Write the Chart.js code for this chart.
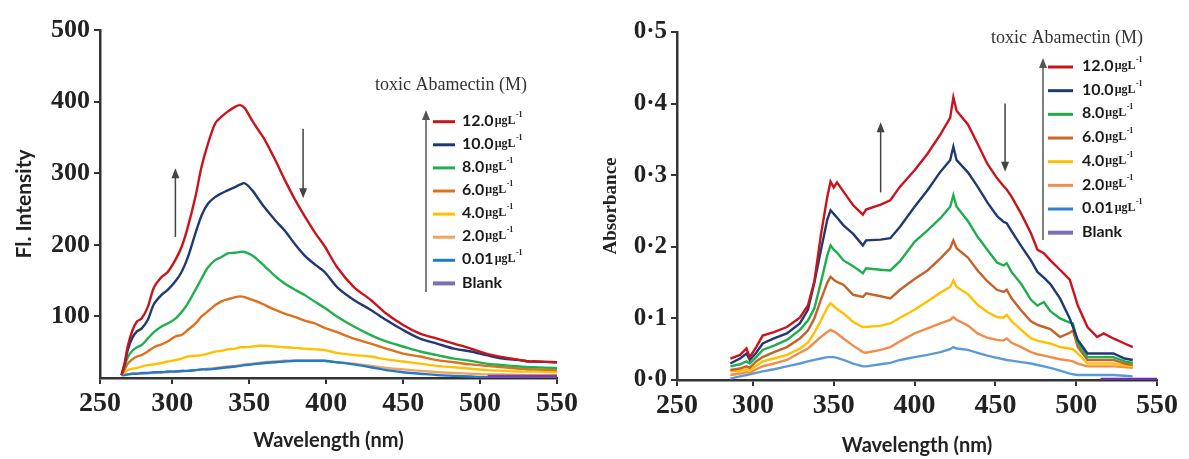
<!DOCTYPE html>
<html>
<head>
<meta charset="utf-8">
<script src="https://cdn.jsdelivr.net/npm/chart.js@4.4.1/dist/chart.umd.min.js"></script>
<style>
  html, body { margin: 0; padding: 0; background: #fff; }
  #wrap { position: relative; width: 1189px; height: 459px; overflow: hidden; background: #fff; }
  canvas { position: absolute; top: 0; }
</style>
</head>
<body>
<div id="wrap">
  <canvas id="fluo" width="594" height="459" style="left:0"></canvas>
  <canvas id="abs" width="595" height="459" style="left:594px"></canvas>
</div>
<script>
// legend / categories
const concLabels = ['12.0', '10.0', '8.0', '6.0', '4.0', '2.0', '0.01', 'Blank'];
const unitText = 'μgL';
const unitSup = '-1';
const legendTitle = 'toxic Abamectin (M)';

// tick labels
const xTickValues = [250, 300, 350, 400, 450, 500, 550];
const xTickLabels = ['250', '300', '350', '400', '450', '500', '550'];
const yTickValuesFluo = [100, 200, 300, 400, 500];
const yTickLabelsFluo = ['100', '200', '300', '400', '500'];
const yTickValuesAbs = [0, 0.1, 0.2, 0.3, 0.4, 0.5];
const yTickLabelsAbs = ['0·0', '0·1', '0·2', '0·3', '0·4', '0·5'];

// left panel : fluorescence spectra
const wlFluo = [267, 269, 271, 274, 277, 280, 284, 288, 293, 297,
  302, 306, 310, 315, 319, 323, 328, 332, 336, 341,
  344, 347, 352, 356, 360, 367, 373, 380, 386, 393,
  399, 407, 418, 429, 439, 450, 461, 472, 483, 494,
  504, 515, 526, 532, 535, 550];
const fluo12 = [18, 35, 58, 80, 93, 97, 113, 140, 155, 162,
  179, 197, 224, 267, 309, 340, 370, 379, 386, 393,
  395, 391, 373, 360, 347, 318, 291, 262, 240, 216,
  198, 169, 141, 123, 104, 88, 76, 69, 62, 55,
  48, 43, 39, 37, 37, 36];
const fluo10 = [18, 33, 53, 70, 79, 83, 95, 117, 130, 137,
  149, 162, 182, 216, 241, 257, 267, 272, 276, 281,
  284, 286, 276, 264, 252, 234, 220, 200, 185, 172,
  162, 141, 123, 109, 95, 81, 69, 62, 55, 51,
  46, 41, 39, 37, 37, 36];
const fluo8 = [18, 30, 43, 52, 57, 60, 69, 78, 86, 90,
  97, 106, 118, 137, 153, 168, 179, 183, 188, 189,
  190, 190, 185, 178, 170, 156, 146, 137, 130, 120,
  112, 100, 86, 74, 65, 58, 51, 46, 41, 38,
  34, 32, 30, 29, 29, 28];
const fluo6 = [18, 26, 34, 40, 44, 46, 51, 57, 61, 65,
  72, 74, 81, 90, 100, 107, 116, 121, 124, 127,
  128, 127, 123, 120, 116, 109, 104, 99, 94, 90,
  84, 78, 69, 62, 55, 48, 44, 39, 36, 33,
  31, 29, 27, 26, 26, 25];
const fluo4 = [18, 22, 25, 27, 28, 30, 32, 33, 35, 37,
  39, 41, 44, 45, 46, 48, 51, 52, 54, 55,
  57, 57, 58, 59, 59, 58, 57, 56, 55, 54,
  53, 49, 46, 44, 40, 37, 34, 31, 29, 27,
  25, 24, 23, 23, 23, 22];
const fluo2 = [18, 19, 19, 20, 20, 20, 21, 21, 22, 22,
  23, 23, 24, 25, 26, 27, 28, 29, 30, 31,
  32, 33, 34, 35, 36, 37, 38, 38, 38, 38,
  38, 36, 34, 31, 28, 26, 24, 22, 21, 20,
  19, 19, 18, 18, 18, 18];
const fluo001 = [18, 18, 19, 20, 20, 21, 21, 22, 22, 23,
  23, 24, 24, 25, 26, 26, 27, 28, 29, 30,
  31, 32, 33, 34, 35, 36, 37, 38, 38, 38,
  38, 36, 33, 29, 25, 22, 20, 18, 17, 16,
  15, 15, 15, 15, 15, 15];
const wlBlankFluo = [505, 530, 550];
const fluoBlank = [16.5, 16.5, 16.5];

// right panel : absorbance spectra
const wlAbs = [286, 292, 296, 298, 302, 306, 313, 321, 329, 334,
  338, 342, 346, 348, 350, 352, 356, 362, 368, 370,
  379, 385, 391, 400, 408, 416, 422, 424, 426, 433,
  439, 445, 451, 455, 457, 460, 466, 472, 476, 480,
  484, 490, 496, 498, 501, 507, 513, 517, 523, 530,
  535];
const abs12 = [.044, .049, .058, .046, .060, .076, .081, .088, .101, .118,
  .152, .216, .270, .291, .283, .290, .277, .258, .245, .252,
  .259, .265, .284, .307, .330, .357, .380, .409, .390, .371,
  .344, .316, .296, .285, .280, .270, .246, .219, .196, .191,
  .181, .168, .154, .140, .118, .088, .074, .079, .072, .065,
  .060];
const abs10 = [.037, .044, .051, .042, .052, .065, .072, .079, .093, .112,
  .150, .195, .238, .251, .246, .241, .230, .218, .202, .209,
  .210, .212, .228, .256, .279, .305, .321, .340, .321, .304,
  .284, .262, .243, .235, .233, .222, .201, .181, .165, .157,
  .148, .128, .100, .088, .070, .051, .051, .051, .051, .044,
  .042];
const abs8 = [.033, .036, .040, .037, .046, .056, .062, .070, .084, .097,
  .114, .150, .188, .202, .196, .192, .181, .173, .163, .170,
  .168, .167, .180, .207, .223, .240, .256, .272, .256, .236,
  .214, .196, .178, .174, .177, .165, .148, .126, .118, .123,
  .110, .100, .094, .093, .066, .046, .046, .046, .046, .040,
  .038];
const abs6 = [.028, .030, .033, .031, .040, .046, .053, .060, .072, .083,
  .100, .126, .150, .158, .154, .151, .147, .133, .130, .135,
  .131, .128, .140, .155, .167, .184, .198, .209, .198, .185,
  .167, .152, .140, .137, .140, .128, .111, .096, .091, .088,
  .085, .074, .080, .083, .060, .042, .042, .042, .042, .037,
  .035];
const abs4 = [.026, .027, .029, .028, .034, .040, .044, .049, .058, .066,
  .080, .097, .115, .121, .117, .113, .107, .095, .088, .088,
  .090, .093, .101, .112, .124, .136, .144, .153, .144, .134,
  .119, .109, .102, .101, .105, .096, .084, .072, .069, .067,
  .065, .060, .058, .057, .051, .037, .037, .037, .037, .034,
  .033];
const abs2 = [.021, .023, .025, .024, .029, .033, .037, .042, .052, .058,
  .066, .074, .081, .084, .082, .079, .072, .062, .053, .052,
  .056, .060, .068, .079, .086, .093, .098, .102, .098, .090,
  .079, .073, .070, .069, .072, .066, .060, .053, .050, .048,
  .046, .043, .041, .040, .037, .033, .033, .033, .033, .032,
  .031];
const abs001 = [.016, .019, .021, .022, .024, .026, .029, .033, .037, .040,
  .042, .044, .046, .046, .046, .045, .042, .037, .033, .033,
  .036, .038, .042, .046, .049, .053, .057, .060, .058, .056,
  .052, .048, .045, .043, .042, .041, .039, .037, .035, .033,
  .031, .027, .023, .022, .021, .021, .021, .021, .021, .020,
  .019];
const wlBlankAbs = [515, 535, 550];
const absBlank = [.015, .015, .015];

// arrows inside the plots (wavelength, from value, to value)
const arrowsFluo = [{ wl: 302, from: 211, to: 307 }, { wl: 385, from: 362, to: 265 }];
const arrowsAbs = [{ wl: 379, from: 0.276, to: 0.374 }, { wl: 456, from: 0.400, to: 0.305 }];

const colorsFluo = ['#c8141c', '#1f3a73', '#22b04e', '#e0701e', '#ffc000', '#f5a25a', '#1f7bd0', '#7a3fb0'];
const colorsAbs = ['#c8141c', '#1f3a73', '#1fae4e', '#c4622a', '#ffc000', '#f28c4a', '#5b9bd5', '#6a2fb5'];
const legendColorsFluo = ['#c8141c', '#1f3a73', '#22b04e', '#e0701e', '#ffc000', '#f5a25a', '#1f7bd0', '#7b70b5'];
const legendColorsAbs = ['#c8141c', '#1f3a73', '#1fae4e', '#d0652a', '#ffc000', '#f28c4a', '#2f80d0', '#7b70b5'];

function pts(wl, vals) {
  return wl.map((w, i) => ({ x: w, y: vals[i] }));
}

function drawArrow(ctx, x, y1, y2, color) {
  const dir = y2 < y1 ? -1 : 1;
  ctx.strokeStyle = color;
  ctx.fillStyle = color;
  ctx.lineWidth = 1.5;
  ctx.beginPath();
  ctx.moveTo(x, y1);
  ctx.lineTo(x, y2 - dir * 8);
  ctx.stroke();
  ctx.beginPath();
  ctx.moveTo(x, y2);
  ctx.lineTo(x - 4, y2 - dir * 10);
  ctx.lineTo(x + 4, y2 - dir * 10);
  ctx.closePath();
  ctx.fill();
}

// draws the concentration legend and the arrows
function legendPlugin(cfg) {
  return {
    id: 'concLegend',
    afterDraw(chart) {
      const ctx = chart.ctx;
      ctx.save();
      ctx.textAlign = 'left';
      ctx.textBaseline = 'middle';
      ctx.font = '18px "Liberation Serif", serif';
      ctx.fillStyle = '#333';
      ctx.fillText(legendTitle, cfg.titleX, cfg.titleY);

      drawArrow(ctx, cfg.arrowX, cfg.arrowBottom, cfg.arrowTop, '#555');

      concLabels.forEach((lab, i) => {
        const y = cfg.top + i * cfg.step;
        ctx.strokeStyle = cfg.colors[i];
        ctx.lineWidth = i === 7 ? 4 : 3;
        ctx.beginPath();
        ctx.moveTo(cfg.lineX0, y);
        ctx.lineTo(cfg.lineX1, y);
        ctx.stroke();

        ctx.fillStyle = '#1a1a1a';
        ctx.font = 'bold 16px Lato, sans-serif';
        ctx.fillText(lab, cfg.textX, y - 1);
        if (lab !== 'Blank') {
          let x = cfg.textX + ctx.measureText(lab).width + 1;
          ctx.font = 'bold 12px "Liberation Serif", serif';
          ctx.fillText(unitText, x, y - 1);
          x += ctx.measureText(unitText).width + 0.5;
          ctx.font = 'bold 8px "Liberation Serif", serif';
          ctx.fillText(unitSup, x, y - 7);
        }
      });

      const xs = chart.scales.x, ys = chart.scales.y;
      cfg.arrows.forEach(a => {
        drawArrow(ctx, xs.getPixelForValue(a.wl), ys.getPixelForValue(a.from), ys.getPixelForValue(a.to), '#444');
      });
      ctx.restore();
    }
  };
}

function makeChart(id, o) {
  const datasets = o.series.map((s, i) => ({
    label: concLabels[i],
    data: pts(s.wl, s.vals),
    borderColor: o.colors[i],
    borderWidth: i === 7 ? 3 : 2.4,
    pointRadius: 0,
    tension: o.tension,
    fill: false,
    order: o.order[i]
  }));
  return new Chart(document.getElementById(id), {
    type: 'line',
    data: { datasets },
    options: {
      responsive: false,
      animation: false,
      devicePixelRatio: 1,
      layout: { padding: { left: 0, top: o.padTop, right: o.padRight, bottom: 0 } },
      plugins: { legend: { display: false }, tooltip: { enabled: false } },
      scales: {
        x: {
          type: 'linear',
          min: 253,
          max: 550,
          afterBuildTicks: s => { s.ticks = xTickValues.map(v => ({ value: Math.max(v, s.min) })); },
          afterFit: s => { s.height = o.xHeight; s.paddingLeft = 0; s.paddingRight = 0; },
          ticks: {
            autoSkip: false, maxRotation: 0, padding: 3, color: '#222',
            font: { family: '"Liberation Serif", serif', weight: 'bold', size: 28 },
            callback: (v, i) => xTickLabels[i]
          },
          grid: { drawOnChartArea: false, drawTicks: true, tickLength: 6, color: '#333', lineWidth: 2 },
          border: { display: true, color: '#333', width: 2.5 },
          title: {
            display: true, text: 'Wavelength (nm)', color: '#222',
            font: { family: 'Lato, sans-serif', weight: 'bold', size: 20 },
            padding: { top: 0, bottom: o.xTitlePad }
          }
        },
        y: {
          type: 'linear',
          min: o.yMin,
          max: o.yMax,
          afterBuildTicks: s => { s.ticks = o.yTicks.map(v => ({ value: Math.max(v, s.min) })); },
          afterFit: s => { s.width = o.yWidth; s.paddingTop = 0; s.paddingBottom = 0; },
          ticks: {
            autoSkip: false, padding: 4, color: '#222',
            font: { family: '"Liberation Serif", serif', weight: 'bold', size: o.yTickSize },
            callback: (v, i) => o.yLabels[i]
          },
          grid: { drawOnChartArea: false, drawTicks: true, tickLength: 6, color: '#333', lineWidth: 2 },
          border: { display: true, color: '#333', width: 2.5 },
          title: {
            display: true, text: o.yTitle, color: '#222',
            font: o.yTitleFont,
            padding: { top: o.yTitlePad, bottom: 0 }
          }
        }
      }
    },
    plugins: [legendPlugin(o.legend)]
  });
}

makeChart('fluo', {
  series: [
    { wl: wlFluo, vals: fluo12 }, { wl: wlFluo, vals: fluo10 }, { wl: wlFluo, vals: fluo8 },
    { wl: wlFluo, vals: fluo6 }, { wl: wlFluo, vals: fluo4 }, { wl: wlFluo, vals: fluo2 },
    { wl: wlFluo, vals: fluo001 }, { wl: wlBlankFluo, vals: fluoBlank }
  ],
  colors: colorsFluo,
  order: [1, 2, 3, 4, 5, 7, 6, 0],
  tension: 0.3,
  padTop: 30, padRight: 37,
  xHeight: 81, xTitlePad: 6,
  yMin: 14, yMax: 500, yWidth: 100,
  yTicks: yTickValuesFluo, yLabels: yTickLabelsFluo, yTickSize: 26,
  yTitle: 'Fl. Intensity',
  yTitleFont: { family: 'Lato, sans-serif', weight: 'bold', size: 21 },
  yTitlePad: 12,
  legend: {
    titleX: 375, titleY: 85,
    arrowX: 426, arrowBottom: 292, arrowTop: 110,
    lineX0: 433, lineX1: 455, textX: 462,
    top: 121.7, step: 23.1,
    colors: legendColorsFluo,
    arrows: arrowsFluo
  }
});

makeChart('abs', {
  series: [
    { wl: wlAbs, vals: abs12 }, { wl: wlAbs, vals: abs10 }, { wl: wlAbs, vals: abs8 },
    { wl: wlAbs, vals: abs6 }, { wl: wlAbs, vals: abs4 }, { wl: wlAbs, vals: abs2 },
    { wl: wlAbs, vals: abs001 }, { wl: wlBlankAbs, vals: absBlank }
  ],
  colors: colorsAbs,
  order: [0, 1, 2, 3, 4, 5, 6, 7],
  tension: 0,
  padTop: 32, padRight: 32,
  xHeight: 79, xTitlePad: 1,
  yMin: 0.014, yMax: 0.5, yWidth: 83,
  yTicks: yTickValuesAbs, yLabels: yTickLabelsAbs, yTickSize: 25,
  yTitle: 'Absorbance',
  yTitleFont: { family: '"Liberation Serif", serif', weight: 'bold', size: 19 },
  yTitlePad: 6,
  legend: {
    titleX: 397, titleY: 38,
    arrowX: 449, arrowBottom: 240, arrowTop: 58,
    lineX0: 454, lineX1: 479, textX: 488,
    top: 67, step: 23.67,
    colors: legendColorsAbs,
    arrows: arrowsAbs
  }
});
</script>
</body>
</html>
